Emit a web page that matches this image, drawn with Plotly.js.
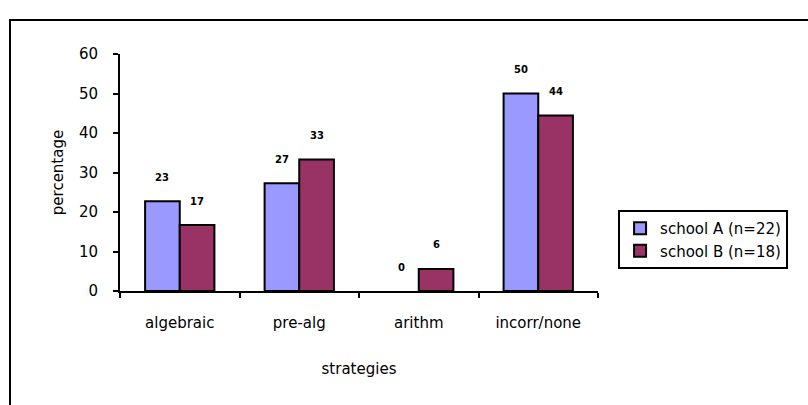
<!DOCTYPE html>
<html>
<head>
<meta charset="utf-8">
<script src="https://cdn.plot.ly/plotly-3.0.1.min.js"></script>
<style>
html,body{margin:0;padding:0;background:#fff;}
#wrap{position:relative;width:808px;height:405px;overflow:hidden;}
#chart{position:absolute;left:0;top:0;width:808px;height:405px;}
#frame{position:absolute;left:9px;top:19px;width:900px;height:500px;border-left:2px solid #000;border-top:2px solid #000;pointer-events:none;}
</style>
</head>
<body>
<div id="wrap"><div id="chart"></div><div id="frame"></div></div>
<script>
const categories = ["algebraic", "pre-alg", "arithm", "incorr/none"];
const seriesNames = ["school A (n=22)", "school B (n=18)"];
const schoolA = [22.7, 27.3, 0, 50.0];
const schoolB = [16.7, 33.3, 5.6, 44.4];
const yTicks = [0, 10, 20, 30, 40, 50, 60];
const colors = ["#9999FF", "#993366"];

const font = "DejaVu Sans, Arial, sans-serif";
const series = [schoolA, schoolB];
const traces = series.map((vals, i) => ({
  type: "bar",
  name: seriesNames[i],
  x: categories,
  y: vals,
  marker: {color: colors[i], line: {color: "#000", width: vals.map(v => v > 0 ? 2 : 0)}},
  hoverinfo: "skip"
}));

const annotations = [];
series.forEach((vals, i) => {
  vals.forEach((v, j) => {
    annotations.push({
      x: categories[j], y: v, xref: "x", yref: "y",
      text: String(Math.round(v)), showarrow: false,
      xshift: i === 0 ? -17.5 : 17.5, yshift: 24,
      font: {family: font, size: 10, color: "#000", weight: "bold"}
    });
  });
});

const layout = {
  width: 808, height: 405,
  margin: {l: 120, r: 210, t: 54, b: 114},
  paper_bgcolor: "rgba(0,0,0,0)", plot_bgcolor: "rgba(0,0,0,0)",
  barmode: "group", bargap: 0.42, bargroupgap: 0,
  font: {family: font, color: "#000"},
  xaxis: {
    type: "category",
    showline: true, linecolor: "#000", linewidth: 2,
    ticks: "outside", tickson: "boundaries", ticklen: 5, tickwidth: 2, tickcolor: "#000",
    showgrid: false, zeroline: false,
    tickfont: {family: font, size: 15, color: "#000"},
    ticklabelstandoff: 17,
    title: {text: "strategies", font: {family: font, size: 15, color: "#000"}, standoff: 32}
  },
  yaxis: {
    range: [0, 60], tickvals: yTicks, ticktext: yTicks.map(String),
    showline: true, linecolor: "#000", linewidth: 2,
    ticks: "outside", ticklen: 5, tickwidth: 2, tickcolor: "#000",
    showgrid: false, zeroline: false,
    tickfont: {family: font, size: 15, color: "#000"},
    ticklabelstandoff: 12,
    title: {text: "percentage", font: {family: font, size: 15, color: "#000"}, standoff: 12}
  },
  legend: {
    x: 1.042, y: 0.342, xanchor: "left", yanchor: "top",
    bordercolor: "#000", borderwidth: 2, bgcolor: "#fff",
    font: {family: font, size: 15, color: "#000"},
    tracegroupgap: 0
  },
  showlegend: true,
  annotations: annotations
};

Plotly.newPlot("chart", traces, layout, {staticPlot: true, displayModeBar: false});
</script>
</body>
</html>
